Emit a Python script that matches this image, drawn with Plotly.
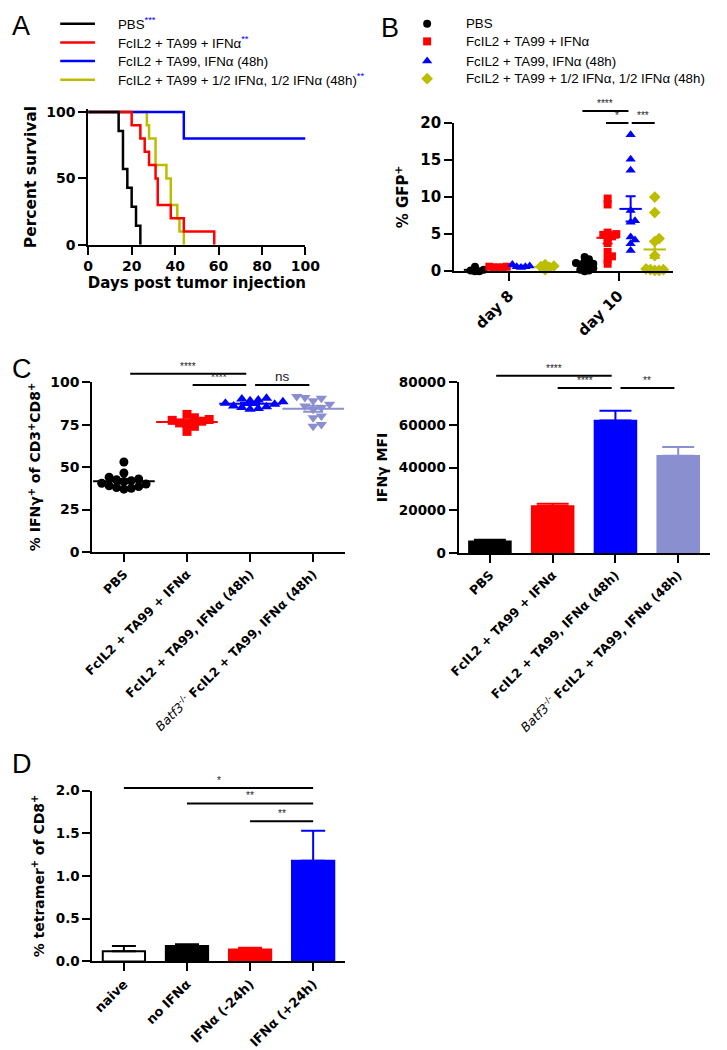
import numpy as np
import plotly.graph_objects as go

W, H = 727, 1050
FONT = "Liberation Sans"
AXF = "DejaVu Sans"
BLACK, RED, BLUE, YEL, LBLUE = "#000000", "#ff0000", "#0000ff", "#bdbd00", "#8a8fcf"

# ---------------- Panel A : survival ----------------
a_names = ["PBS", "FcIL2 + TA99 + IFNα", "FcIL2 + TA99, IFNα (48h)",
           "FcIL2 + TA99 + 1/2 IFNα, 1/2 IFNα (48h)"]
a_stars = ["***", "**", "", "**"]
a_pbs_days = [14, 16, 18, 20, 22, 24]
a_pbs_surv = [85.7, 57.1, 42.9, 28.6, 14.3, 0]
a_red_days = [20, 24, 26, 28, 31, 32, 38, 44, 58]
a_red_surv = [90, 80, 70, 60, 50, 30, 20, 10, 0]
a_blue_days = [44, 100]
a_blue_surv = [80, 80]
a_yel_days = [27, 28, 31, 36, 38, 41, 42, 44]
a_yel_surv = [90, 80, 60, 50, 30, 20, 10, 0]
a_xticks = [0, 20, 40, 60, 80, 100]
a_yticks = [0, 50, 100]

# ---------------- Panel B : % GFP+ ----------------
b_days = ["day 8", "day 10"]
b_names = ["PBS", "FcIL2 + TA99 + IFNα", "FcIL2 + TA99, IFNα (48h)",
           "FcIL2 + TA99 + 1/2 IFNα, 1/2 IFNα (48h)"]
b_pbs = [[0.6, 0.1, 0.0, 0.2, 0.0],
         [1.9, 1.6, 1.3, 1.1, 1.0, 0.9, 0.8, 0.6, 0.4, 0.2, 0.1, 0.0]]
b_red = [[0.5, 0.6, 0.5, 0.6, 0.5],
         [9.8, 9.0, 5.2, 5.0, 4.9, 4.7, 4.5, 3.8, 2.6, 2.0, 1.6, 1.0]]
b_blue = [[0.9, 0.6, 0.7, 0.5, 0.6],
          [18.4, 15.1, 13.6, 8.2, 6.8, 6.6, 4.6, 4.2, 3.7, 2.8]]
b_yel = [[0.9, 0.7, 0.6, 0.5, 0.2],
         [10.0, 7.9, 4.4, 4.0, 2.1, 0.3, 0.2, 0.2, 0.1, 0.1]]
b_yticks = [0, 5, 10, 15, 20]

# ---------------- Panel C : IFNγ ----------------
c_labels = ["PBS", "FcIL2 + TA99 + IFNα", "FcIL2 + TA99, IFNα (48h)",
            "<span style='font-weight:normal'><i>Batf3</i><sup>-/-</sup></span> FcIL2 + TA99, IFNα (48h)"]
c_pbs = [53, 46.5, 44, 43, 42.5, 42, 41.5, 40.5, 40, 39, 38.5, 38, 37.5, 37]
c_red = [81, 79, 78, 77.5, 77, 76, 75.5, 74, 71]
c_blue = [90.5, 90, 89.5, 89, 88.5, 87.5, 87, 86, 85.5, 85, 84.5, 84]
c_lblue = [91.5, 91, 90.5, 89, 87, 86, 85, 84, 80, 79, 75, 74]
c_yticks = [0, 25, 50, 75, 100]
c_mfi = [5500, 22000, 62000, 45500]
c_mfi_err = [700, 1100, 4600, 4100]
c_mfi_yticks = [0, 20000, 40000, 60000, 80000]

# ---------------- Panel D : tetramer ----------------
d_labels = ["naive", "no IFNα", "IFNα (-24h)", "IFNα (+24h)"]
d_vals = [0.12, 0.18, 0.14, 1.18]
d_err = [0.06, 0.02, 0.02, 0.35]
d_yticks = [0.0, 0.5, 1.0, 1.5, 2.0]

# ---------------- layout geometry (pixels) ----------------
def px(x):
    return min(max(x / W, 0.0), 1.0)

def py(y):
    return min(max(1 - y / H, 0.0), 1.0)

GEOM = {
    1: dict(x=(81, 306), xr=(0, 100), y=(240, 102.3), yr=(0, 102)),
    2: dict(x=(460, 687), xr=(-0.5, 1.5), y=(267, 116), yr=(0, 20)),
    3: dict(x=(85.3, 346.6), xr=(-0.5, 3.5), y=(553, 380), yr=(0, 100)),
    4: dict(x=(464.5, 724.5), xr=(-0.5, 3.5), y=(554, 380), yr=(0, 80000)),
    5: dict(x=(85.3, 346.6), xr=(-0.5, 3.5), y=(970, 796), yr=(0, 2.0)),
}

def ppu_x(k):
    g = GEOM[k]
    return (g["x"][1] - g["x"][0]) / (g["xr"][1] - g["xr"][0])

def ppu_y(k):
    g = GEOM[k]
    return (g["y"][0] - g["y"][1]) / (g["yr"][1] - g["yr"][0])

def swarm(vals, ypx, xpx, d):
    vals = np.asarray(vals, float)
    order = np.argsort(vals)
    placed = []
    offs = np.zeros(len(vals))
    cands = [0.0]
    for j in range(1, 80):
        cands += [j * d * 0.5, -j * d * 0.5]
    for i in order:
        y = vals[i] * ypx
        for c in cands:
            if all((c - p) ** 2 + (y - q) ** 2 >= d ** 2 for p, q in placed):
                break
        placed.append((c, y))
        offs[i] = c / xpx
    return offs

def sem(v):
    v = np.asarray(v, float)
    return float(np.std(v, ddof=1) / np.sqrt(len(v)))

fig = go.Figure()

def axn(k, c):
    return c if k == 1 else f"{c}{k}"

# ---- Panel A traces (drawing order: yellow, blue, red, black) ----
a_series = [
    (3, a_yel_days, a_yel_surv, YEL),
    (2, a_blue_days, a_blue_surv, BLUE),
    (1, a_red_days, a_red_surv, RED),
    (0, a_pbs_days, a_pbs_surv, BLACK),
]
a_colors = [BLACK, RED, BLUE, YEL]
for idx, days, surv, col in a_series:
    fig.add_trace(go.Scatter(
        x=[0] + list(days), y=[100] + list(surv), mode="lines",
        line=dict(color=col, width=2.5, shape="hv"), name=a_names[idx],
        showlegend=False, xaxis="x", yaxis="y"))

# ---- Panel B traces ----
b_offsets = [-0.31, -0.10, 0.11, 0.33]
b_sets = [(b_pbs, BLACK, "circle", 8), (b_red, RED, "square", 8),
          (b_blue, BLUE, "triangle-up", 9), (b_yel, YEL, "diamond", 9)]
for gi, (data, col, sym, ms) in enumerate(b_sets):
    xs, ys = [], []
    for di, vals in enumerate(data):
        offs = swarm(vals, ppu_y(2), ppu_x(2), 4.5)
        xs += list(di + b_offsets[gi] + offs)
        ys += list(vals)
    fig.add_trace(go.Scatter(
        x=xs, y=ys, mode="markers", name=b_names[gi],
        marker=dict(color=col, symbol=sym, size=ms), cliponaxis=False,
        showlegend=False, xaxis="x2", yaxis="y2"))
    for di, vals in enumerate(data):
        fig.add_trace(go.Scatter(
            x=[di + b_offsets[gi]], y=[float(np.mean(vals))], mode="markers",
            marker=dict(symbol="line-ew", size=16, line=dict(color=col, width=2)),
            error_y=dict(type="data", array=[sem(vals)], color=col, thickness=2, width=5),
            showlegend=False, cliponaxis=False, xaxis="x2", yaxis="y2"))

# ---- Panel C left ----
c_sets = [(c_pbs, BLACK, "circle", 9), (c_red, RED, "square", 9),
          (c_blue, BLUE, "triangle-up", 10), (c_lblue, LBLUE, "triangle-down", 10)]
for gi, (vals, col, sym, ms) in enumerate(c_sets):
    offs = swarm(vals, ppu_y(3), ppu_x(3), ms * 0.85)
    fig.add_trace(go.Scatter(
        x=list(gi + offs), y=vals, mode="markers",
        marker=dict(color=col, symbol=sym, size=ms), cliponaxis=False,
        showlegend=False, xaxis="x3", yaxis="y3"))
    fig.add_trace(go.Scatter(
        x=[gi], y=[float(np.mean(vals))], mode="markers",
        marker=dict(symbol="line-ew", size=44, line=dict(color=col, width=2)),
        error_y=dict(type="data", array=[sem(vals)], color=col, thickness=2, width=10),
        showlegend=False, cliponaxis=False, xaxis="x3", yaxis="y3"))

# ---- Panel C right (bars) ----
c_bar_cols = [BLACK, RED, BLUE, LBLUE]
for i in range(4):
    fig.add_trace(go.Bar(
        x=[i], y=[c_mfi[i]], width=0.67,
        marker=dict(color=c_bar_cols[i], line=dict(color=c_bar_cols[i], width=1.5)),
        error_y=dict(type="data", symmetric=False, array=[c_mfi_err[i]], arrayminus=[0],
                     color=c_bar_cols[i], thickness=2, width=16),
        showlegend=False, xaxis="x4", yaxis="y4"))

# ---- Panel D (bars) ----
d_fill = ["#ffffff", BLACK, RED, BLUE]
d_line = [BLACK, BLACK, RED, BLUE]
for i in range(4):
    fig.add_trace(go.Bar(
        x=[i], y=[d_vals[i]], width=0.67,
        marker=dict(color=d_fill[i], line=dict(color=d_line[i], width=2)),
        error_y=dict(type="data", symmetric=False, array=[d_err[i]], arrayminus=[0],
                     color=d_line[i], thickness=2, width=12),
        showlegend=False, xaxis="x5", yaxis="y5"))

# ---------------- legends (drawn on a page-pixel overlay axis) ----------------
annotations = []
LEG_FONT = dict(family=FONT, size=13.3, color="black")
a_leg_y = [15, 34, 53, 72]
for i in range(4):
    fig.add_trace(go.Scatter(x=[52, 88], y=[a_leg_y[i]] * 2, mode="lines",
                             line=dict(color=a_colors[i], width=2.5),
                             showlegend=False, hoverinfo="skip", xaxis="x6", yaxis="y6"))
    txt = a_names[i]
    if a_stars[i]:
        txt += f"<span style='color:{BLUE}'><sup>{a_stars[i]}</sup></span>"
    annotations.append(dict(xref="x6", yref="y6", x=110, y=a_leg_y[i], text=txt,
                            showarrow=False, xanchor="left", yanchor="middle", font=LEG_FONT))
b_leg_y = [15, 33, 53, 71]
for gi, (data, col, sym, ms) in enumerate(b_sets):
    fig.add_trace(go.Scatter(x=[432], y=[b_leg_y[gi]], mode="markers",
                             marker=dict(color=col, symbol=sym, size=ms),
                             showlegend=False, hoverinfo="skip", cliponaxis=False,
                             xaxis="x6", yaxis="y6"))
    annotations.append(dict(xref="x6", yref="y6", x=470, y=b_leg_y[gi], text=b_names[gi],
                            showarrow=False, xanchor="left", yanchor="middle", font=LEG_FONT))

# ---------------- significance bars ----------------
shapes = []

def sig(k, x0, x1, yv, label, size=10, yshift=0):
    g = GEOM[k]
    yd = (yv - g["yr"][0]) / (g["yr"][1] - g["yr"][0])
    xr, yr = axn(k, "x"), axn(k, "y") + " domain"
    shapes.append(dict(type="line", xref=xr, yref=yr, x0=x0, x1=x1, y0=yd, y1=yd,
                       line=dict(color="black", width=2)))
    annotations.append(dict(xref=xr, yref=yr, x=(x0 + x1) / 2, y=yd, text=label,
                            showarrow=False, yanchor="bottom", yshift=yshift,
                            font=dict(family=FONT, size=size, color="#222222")))

for k, lab, x0, x1, yv in [
    (2, "****", 0.67, 1.09, 21.6), (2, "*", 0.885, 1.09, 20.0), (2, "***", 1.12, 1.33, 20.0),
    (3, "****", 0.10, 1.94, 105), (3, "****", 1.09, 1.94, 98.3),
    (4, "****", 0.10, 1.94, 83000), (4, "****", 1.08, 1.94, 77200), (4, "**", 2.08, 2.94, 77200),
    (5, "*", 0.0, 3.0, 2.03), (5, "**", 1.0, 3.0, 1.85), (5, "**", 2.0, 3.0, 1.64),
]:
    sig(k, x0, x1, yv, lab)
sig(3, 2.08, 2.94, 98.3, "ns", size=13.5, yshift=-1)

# panel letters
for lab, x, y in [("A", 0, -3), ("B", 382, 2), ("C", 0, 349), ("D", 0, 752)]:
    annotations.append(dict(xref="paper", yref="paper", x=px(x), y=py(y), text=lab,
                            showarrow=False, xanchor="left", yanchor="top",
                            font=dict(family=FONT, size=27, color="black")))

# ---------------- axes ----------------
def axis(k, which, tickvals, ticktext=None, angle=None, title=None, standoff=None,
         fsize=14, tsize=14):
    g = GEOM[k]
    common = dict(showline=True, linecolor="black", linewidth=2, ticks="outside",
                  ticklen=8, tickwidth=2, tickcolor="black", showgrid=False, zeroline=False,
                  tickfont=dict(family=AXF, size=fsize, color="black", weight="bold"),
                  fixedrange=True, tickvals=tickvals)
    if ticktext is not None:
        common["ticktext"] = ticktext
    if angle is not None:
        common["tickangle"] = angle
    if title:
        common["title"] = dict(text=title, font=dict(family=AXF, size=tsize, color="black",
                                                     weight="bold"))
        if standoff is not None:
            common["title"]["standoff"] = standoff
    if which == "x":
        common.update(domain=[px(g["x"][0]), px(g["x"][1])], range=list(g["xr"]),
                      anchor=axn(k, "y"))
    else:
        common.update(domain=[py(g["y"][0]), py(g["y"][1])], range=list(g["yr"]),
                      anchor=axn(k, "x"))
    return common

layout = dict(
    width=W, height=H, margin=dict(l=0, r=0, t=0, b=0),
    paper_bgcolor="white", plot_bgcolor="rgba(0,0,0,0)", barmode="overlay",
    font=dict(family=FONT, color="black"), showlegend=False,
    shapes=shapes, annotations=annotations,
    xaxis=axis(1, "x", a_xticks, title="Days post tumor injection", standoff=4, tsize=15),
    yaxis=axis(1, "y", a_yticks, title="Percent survival", standoff=6, tsize=15.5),
    xaxis2=axis(2, "x", [0, 1], b_days, angle=-45, fsize=15),
    yaxis2=axis(2, "y", b_yticks, title="% GFP<sup>+</sup>", standoff=8, fsize=15, tsize=15),
    xaxis3=axis(3, "x", [0, 1, 2, 3], c_labels, angle=-45, fsize=12.5),
    yaxis3=axis(3, "y", c_yticks, title="% IFNγ<sup>+</sup> of CD3<sup>+</sup>CD8<sup>+</sup>",
                standoff=6),
    xaxis4=axis(4, "x", [0, 1, 2, 3], c_labels, angle=-45, fsize=12.5),
    yaxis4=axis(4, "y", c_mfi_yticks, [str(v) for v in c_mfi_yticks], title="IFNγ MFI",
                standoff=8, fsize=13.5),
    xaxis5=axis(5, "x", [0, 1, 2, 3], d_labels, angle=-45, fsize=13),
    yaxis5=axis(5, "y", d_yticks, [f"{v:.1f}" for v in d_yticks],
                title="% tetramer<sup>+</sup> of CD8<sup>+</sup>", standoff=8, fsize=13.5),
    xaxis6=dict(domain=[0, 1], range=[0, W], visible=False, fixedrange=True, anchor="y6"),
    yaxis6=dict(domain=[0, 1], range=[H, 0], visible=False, fixedrange=True, anchor="x6"),
)
fig.update_layout(**layout)
fig.write_html("out.html", config={"displayModeBar": False},
               post_script="document.body.style.margin='0';document.body.style.overflow='hidden';")
